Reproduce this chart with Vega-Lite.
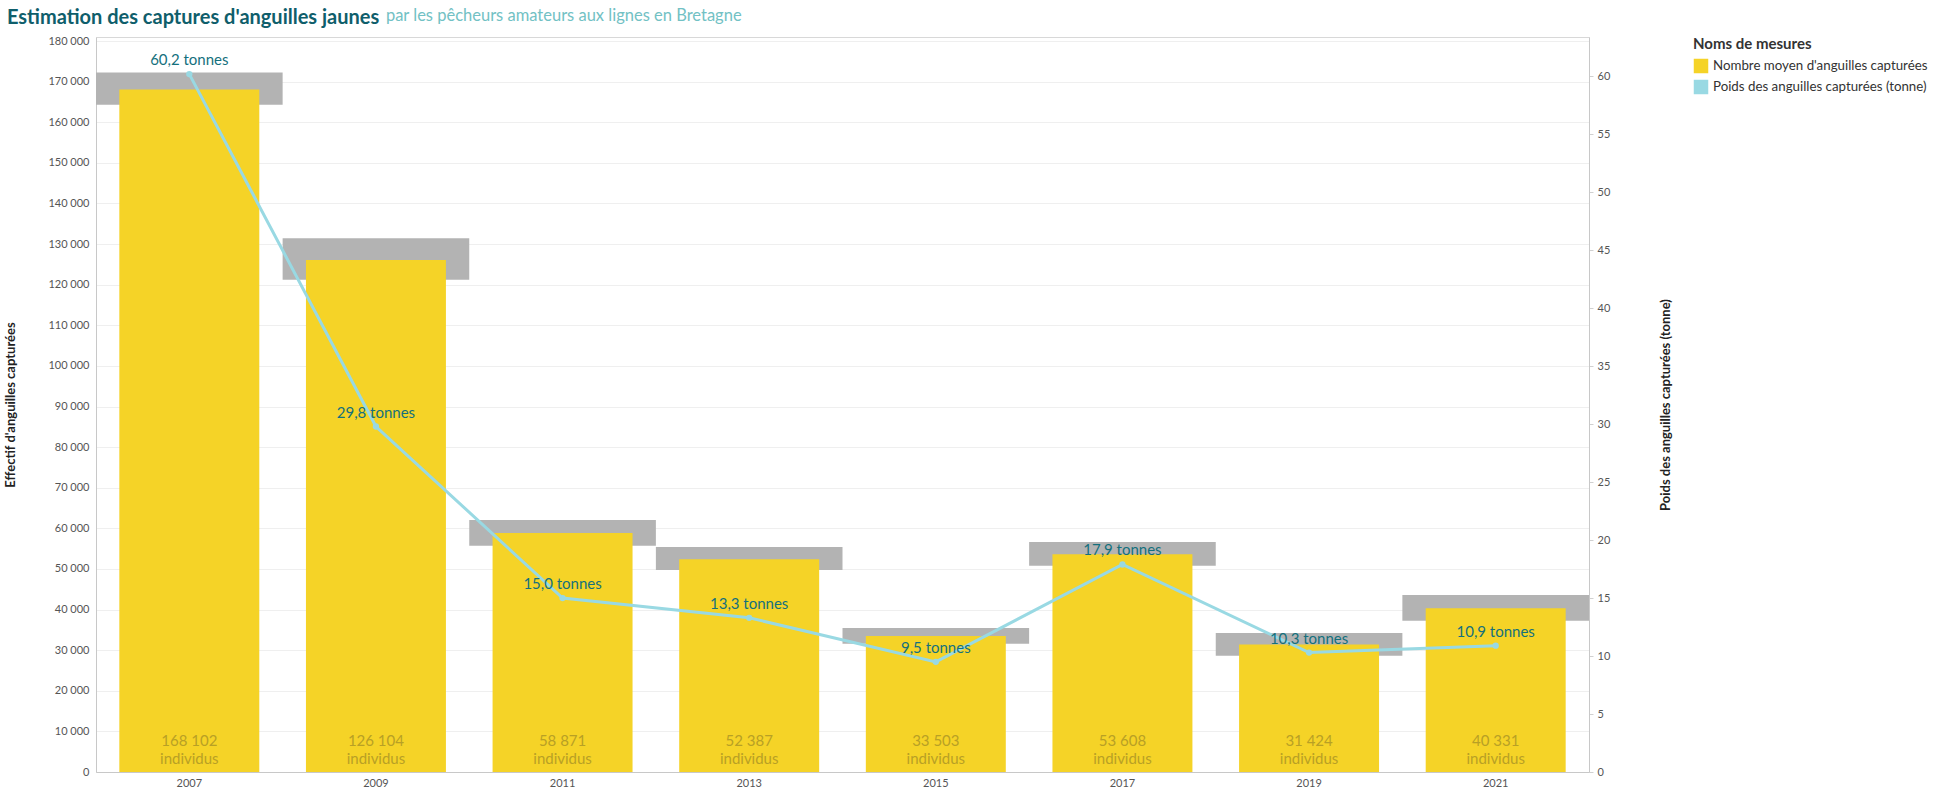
{
  "$schema": "https://vega.github.io/schema/vega-lite/v6.json",
  "width": 1493,
  "height": 735,
  "padding": {"left": 4, "top": 7, "right": 0, "bottom": 5},
  "background": "white",
  "title": {
    "text": "par les pêcheurs amateurs aux lignes en Bretagne",
    "subtitle": "Estimation des captures d'anguilles jaunes",
    "anchor": "start",
    "frame": "bounds",
    "font": "Lato",
    "fontSize": 16.5,
    "fontWeight": "normal",
    "color": "#72c1c4",
    "subtitleFont": "Lato",
    "subtitleFontSize": 20,
    "subtitleFontWeight": "bold",
    "subtitleColor": "#0f5e6b",
    "subtitlePadding": -16,
    "encoding": {"dx": {"value": 381}},
    "dx": 2,
    "offset": 7
  },
  "config": {
    "font": "Lato",
    "locale": {"number": {"decimal": ",", "thousands": " ", "grouping": [3], "currency": ["", " €"]}},
    "view": {"stroke": "#d8d8d8"},
    "legend": {"symbolType": "square"}
  },
  "data": {
    "values": [
      {"year": "2007", "n": 168102, "lo": 164300, "hi": 172250, "t": 60.2, "lab_n": "168 102\nindividus", "lab_t": "60,2 tonnes"},
      {"year": "2009", "n": 126104, "lo": 121200, "hi": 131460, "t": 29.8, "lab_n": "126 104\nindividus", "lab_t": "29,8 tonnes"},
      {"year": "2011", "n": 58871, "lo": 55700, "hi": 62040, "t": 15.0, "lab_n": "58 871\nindividus", "lab_t": "15,0 tonnes"},
      {"year": "2013", "n": 52387, "lo": 49730, "hi": 55390, "t": 13.3, "lab_n": "52 387\nindividus", "lab_t": "13,3 tonnes"},
      {"year": "2015", "n": 33503, "lo": 31590, "hi": 35450, "t": 9.5, "lab_n": "33 503\nindividus", "lab_t": "9,5 tonnes"},
      {"year": "2017", "n": 53608, "lo": 50790, "hi": 56620, "t": 17.9, "lab_n": "53 608\nindividus", "lab_t": "17,9 tonnes"},
      {"year": "2019", "n": 31424, "lo": 28630, "hi": 34220, "t": 10.3, "lab_n": "31 424\nindividus", "lab_t": "10,3 tonnes"},
      {"year": "2021", "n": 40331, "lo": 37250, "hi": 43580, "t": 10.9, "lab_n": "40 331\nindividus", "lab_t": "10,9 tonnes"}
    ]
  },
  "encoding": {
    "x": {
      "field": "year",
      "type": "ordinal",
      "scale": {"paddingInner": 0, "paddingOuter": 0},
      "axis": {
        "title": null,
        "labelAngle": 0,
        "ticks": false,
        "labelPadding": 5,
        "labelFontSize": 11,
        "labelColor": "#555555",
        "domainColor": "#c8c8c8"
      }
    }
  },
  "layer": [
    {
      "layer": [
        {
          "mark": {"type": "bar", "color": "#b3b3b3", "width": {"band": 1}},
          "encoding": {
            "y": {
              "field": "lo",
              "type": "quantitative",
              "scale": {"domain": [0, 181000], "nice": false},
              "axis": {
                "title": "Effectif d'anguilles capturées",
                "values": [0, 10000, 20000, 30000, 40000, 50000, 60000, 70000, 80000, 90000, 100000, 110000, 120000, 130000, 140000, 150000, 160000, 170000, 180000],
                "format": ",d",
                "grid": true,
                "gridColor": "#efefef",
                "ticks": false,
                "labelPadding": 7,
                "labelFontSize": 11,
                "labelColor": "#555555",
                "domainColor": "#c8c8c8",
                "titleFontSize": 13,
                "titleFontWeight": "bold",
                "titleColor": "#222222",
                "titlePadding": 30
              }
            },
            "y2": {"field": "hi"}
          }
        },
        {
          "mark": {"type": "bar", "width": {"band": 0.75}},
          "encoding": {
            "y": {
              "field": "n",
              "type": "quantitative",
              "axis": {
                "title": "Effectif d'anguilles capturées",
                "values": [0, 10000, 20000, 30000, 40000, 50000, 60000, 70000, 80000, 90000, 100000, 110000, 120000, 130000, 140000, 150000, 160000, 170000, 180000],
                "format": ",d",
                "grid": true,
                "gridColor": "#efefef",
                "ticks": false,
                "labelPadding": 7,
                "labelFontSize": 11,
                "labelColor": "#555555",
                "domainColor": "#c8c8c8",
                "titleFontSize": 13,
                "titleFontWeight": "bold",
                "titleColor": "#222222",
                "titlePadding": 30
              }
            },
            "color": {
              "datum": "Nombre moyen d'anguilles capturées",
              "type": "nominal",
              "scale": {
                "domain": ["Nombre moyen d'anguilles capturées", "Poids des anguilles capturées (tonne)"],
                "range": ["#f5d327", "#99d9e3"]
              },
              "legend": {
                "title": "Noms de mesures",
                "symbolType": "square",
                "symbolSize": 210,
                "titleFontSize": 15,
                "titleFontWeight": "bold",
                "titleColor": "#333333",
                "titlePadding": 6,
                "labelFontSize": 13.3,
                "labelColor": "#333333",
                "labelLimit": 320,
                "rowPadding": 5,
                "offset": 20
              }
            }
          }
        },
        {
          "mark": {"type": "text", "lineBreak": "\n", "baseline": "bottom", "dy": -23, "fontSize": 15, "color": "#b8a025", "lineHeight": 18},
          "encoding": {
            "y": {"datum": 0, "type": "quantitative"},
            "text": {"field": "lab_n"}
          }
        }
      ]
    },
    {
      "layer": [
        {
          "mark": {"type": "line", "color": "#99d9e3", "strokeWidth": 3},
          "encoding": {
            "y": {
              "field": "t",
              "type": "quantitative",
              "scale": {"domain": [0, 63.4], "nice": false},
              "axis": {
                "orient": "right",
                "title": "Poids des anguilles capturées (tonne)",
                "values": [0, 5, 10, 15, 20, 25, 30, 35, 40, 45, 50, 55, 60],
                "grid": false,
                "ticks": true,
                "tickSize": 4,
                "tickColor": "#d0d0d0",
                "labelPadding": 4,
                "labelFontSize": 11,
                "labelColor": "#555555",
                "domainColor": "#c8c8c8",
                "titleFontSize": 13,
                "titleFontWeight": "bold",
                "titleColor": "#222222",
                "titleAngle": 270,
                "titlePadding": 63
              }
            }
          }
        },
        {
          "mark": {"type": "point", "filled": true, "size": 40, "opacity": 1},
          "encoding": {
            "y": {"field": "t", "type": "quantitative"},
            "color": {"datum": "Poids des anguilles capturées (tonne)", "type": "nominal"}
          }
        },
        {
          "mark": {"type": "text", "baseline": "middle", "dy": -14, "fontSize": 15, "color": "#14707d"},
          "encoding": {
            "y": {"field": "t", "type": "quantitative"},
            "text": {"field": "lab_t"}
          }
        }
      ]
    }
  ],
  "resolve": {"scale": {"y": "independent"}}
}
